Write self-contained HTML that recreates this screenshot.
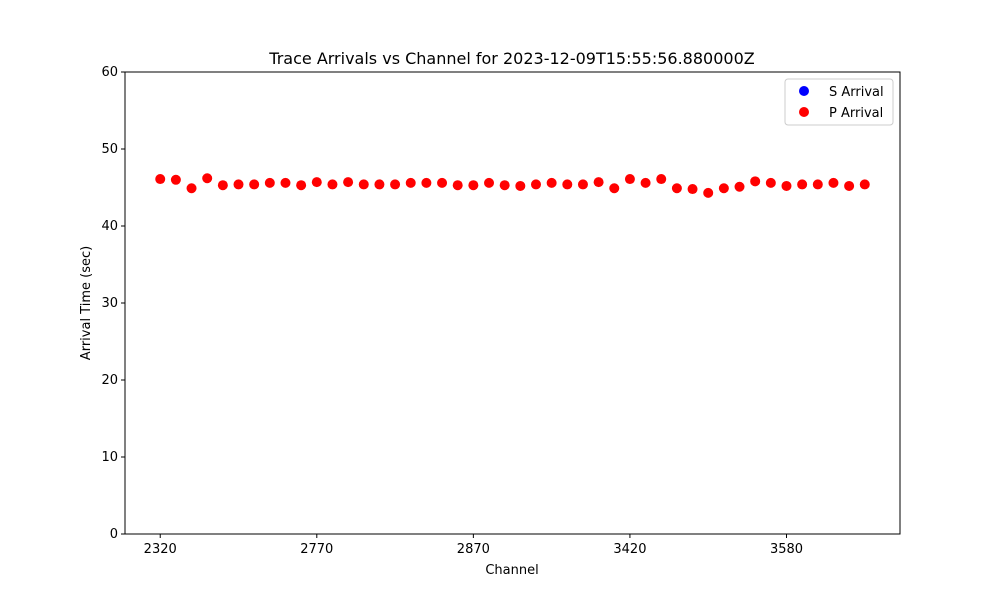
<!DOCTYPE html>
<html><head><meta charset="utf-8"><style>
body{margin:0;background:#fff;font-family:"Liberation Sans","DejaVu Sans",sans-serif}
svg text{font-family:"DejaVu Sans","Liberation Sans",sans-serif;fill:#000}
</style></head><body>
<svg id="chart" width="1000" height="600">
<rect width="1000" height="600" fill="#fff"/>
<text x="512" y="64" font-size="16" text-anchor="middle">Trace Arrivals vs Channel for 2023-12-09T15:55:56.880000Z</text>
<g id="plot"></g>
<rect x="125" y="72" width="775" height="462" fill="none" stroke="#000" stroke-width="1"/>
<text x="512" y="574" font-size="13" text-anchor="middle">Channel</text>
<text transform="translate(90,303) rotate(-90)" font-size="13" text-anchor="middle">Arrival Time (sec)</text>
<g>
<rect x="785" y="79" width="108" height="46" fill="#fff" stroke="#ccc" rx="3"/>
<circle cx="804" cy="91" r="5" fill="blue"/>
<text x="829" y="96" font-size="13">S Arrival</text>
<circle cx="804" cy="112" r="5" fill="red"/>
<text x="829" y="117" font-size="13">P Arrival</text>
</g>
</svg>
<script>
const categoryCount = 46;
const pArrivals = [46.1,46.0,44.9,46.2,45.3,45.4,45.4,45.6,45.6,45.3,45.7,45.4,45.7,45.4,45.4,45.4,45.6,45.6,45.6,45.3,45.3,45.6,45.3,45.2,45.4,45.6,45.4,45.4,45.7,44.9,46.1,45.6,46.1,44.9,44.8,44.3,44.9,45.1,45.8,45.6,45.2,45.4,45.4,45.6,45.2,45.4];
const sArrivals = [];
const xTickIndex = [0,10,20,30,40];
const xTickLabels = ["2320","2770","2870","3420","3580"];
const yTicks = [0,10,20,30,40,50,60];

const X0=125,X1=900,Y0=534,Y1=72;
const n=pArrivals.length;
const xmin=-0.05*(n-1), xmax=(n-1)*1.05;
const xs=i=>X0+(i-xmin)/(xmax-xmin)*(X1-X0);
const ys=v=>Y0-(v-0)/(60-0)*(Y0-Y1);
const NS="http://www.w3.org/2000/svg";
const g=document.getElementById('plot');
function mk(tag,attrs){const e=document.createElementNS(NS,tag);for(const k in attrs)e.setAttribute(k,attrs[k]);g.appendChild(e);return e;}
yTicks.forEach(t=>{
  const y=ys(t);
  const l=mk('line',{x1:X0-4,x2:X0,y1:y,y2:y,stroke:'#000'});
  
  
  const tx=mk('text',{x:X0-7,y:y+4,'font-size':13,'text-anchor':'end'});
  tx.textContent=t;
  
  
});
xTickIndex.forEach((idx,k)=>{
  const x=xs(idx);
  const l=mk('line',{x1:x,x2:x,y1:Y0,y2:Y0+4,stroke:'#000'});
  
  
  const tx=mk('text',{x:x,y:Y0+19,'font-size':13,'text-anchor':'middle'});
  tx.textContent=xTickLabels[k];
  
  
});
sArrivals.forEach((v,i)=>{
  const c=mk('circle',{cx:xs(i),cy:ys(v),r:5,fill:'blue'});
  
  
});
pArrivals.forEach((v,i)=>{
  const c=mk('circle',{cx:xs(i),cy:ys(v),r:5,fill:'red'});
  
  
});
</script>
</body></html>
